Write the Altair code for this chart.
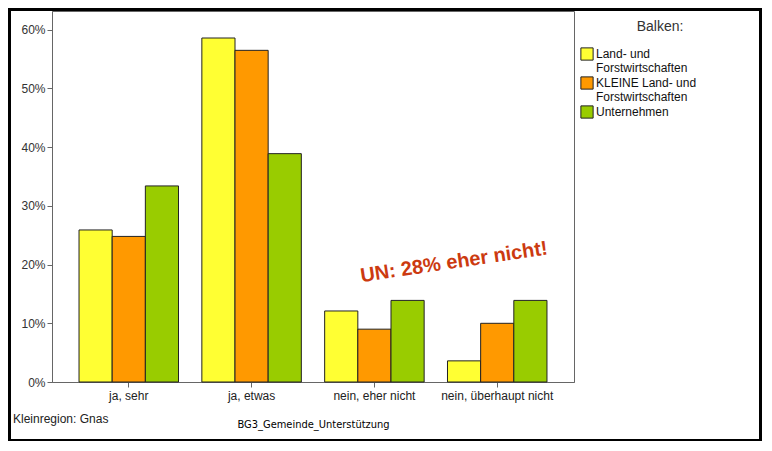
import altair as alt
import pandas as pd

categories = ["ja, sehr", "ja, etwas", "nein, eher nicht", "nein, überhaupt nicht"]
series = ["Land- und Forstwirtschaften", "KLEINE Land- und Forstwirtschaften", "Unternehmen"]
colors = ["#ffff33", "#ff9900", "#99cc00"]
values_lf = [0.259, 0.586, 0.121, 0.036]
values_klein = [0.248, 0.565, 0.090, 0.100]
values_un = [0.334, 0.389, 0.139, 0.139]
y_ticks = [0.0, 0.1, 0.2, 0.3, 0.4, 0.5, 0.6]

rows = []
for s, vals in zip(series, [values_lf, values_klein, values_un]):
    for c, v in zip(categories, vals):
        rows.append({"cat": c, "serie": s, "val": v})
df = pd.DataFrame(rows)

FONT = "Liberation Sans"

bars = alt.Chart(df).mark_bar(stroke="#222222", strokeWidth=1).encode(
    x=alt.X("cat:N", sort=categories,
            scale=alt.Scale(paddingInner=0.19, paddingOuter=0.22),
            axis=alt.Axis(title="BG3_Gemeinde_Unterstützung", labelAngle=0,
                          labelFontSize=12, labelColor="#222222", labelFont=FONT,
                          titleFontSize=11, titleFont="DejaVu Sans Condensed",
                          titleFontWeight="normal", titleColor="#000000",
                          titlePadding=17, tickSize=5, tickColor="#666666",
                          domainColor="#666666", labelPadding=3)),
    xOffset=alt.XOffset("serie:N", sort=series, scale=alt.Scale(paddingInner=0, paddingOuter=0)),
    y=alt.Y("val:Q", scale=alt.Scale(domain=[0, 0.632], nice=False),
            axis=alt.Axis(title=None, format=".0%", values=y_ticks, grid=False,
                          labelFontSize=12, labelColor="#333333", labelFont=FONT,
                          tickSize=5, tickColor="#666666", domainColor="#666666",
                          labelPadding=2)),
    color=alt.Color("serie:N", sort=series,
                    scale=alt.Scale(domain=series, range=colors),
                    legend=alt.Legend(title=None, orient="none", legendX=528, legendY=36,
                                      labelFontSize=12, labelColor="#111111", labelFont=FONT,
                                      symbolType="square", symbolSize=150,
                                      symbolStrokeColor="#222222", symbolStrokeWidth=1,
                                      symbolOpacity=1, labelOffset=2, rowPadding=0,
                                      labelExpr="indexof(datum.label, 'Land- und') >= 0 ? [replace(datum.label, ' Forstwirtschaften', ''), 'Forstwirtschaften'] : datum.label")),
)

legend_title = alt.Chart(pd.DataFrame({"t": ["Balken:"]})).mark_text(
    fontSize=14, font=FONT, color="#333333", align="center", baseline="middle"
).encode(x=alt.value(608), y=alt.value(16), text="t:N")

annot = alt.Chart(pd.DataFrame({"t": ["UN: 28% eher nicht!"], "y": [0.204]})).mark_text(
    fontSize=20, fontWeight="bold", font=FONT, color="#cc3a10", angle=351.5,
    align="center", baseline="middle"
).encode(x=alt.value(402), y=alt.Y("y:Q"), text="t:N")

bottom = alt.Chart(pd.DataFrame({"t": ["Kleinregion: Gnas"]})).mark_text(
    fontSize=12, font=FONT, color="#222222", align="left", baseline="middle"
).encode(x=alt.value(-39), y=alt.value(408), text="t:N")

frame = alt.Chart(pd.DataFrame({"a": [1]})).mark_rect(
    fill="transparent", stroke="#000000", strokeWidth=3
).encode(x=alt.value(-42.5), x2=alt.value(708.5), y=alt.value(-1.5), y2=alt.value(429.5))

chart = alt.layer(bars, legend_title, annot, bottom, frame).properties(
    width=522, height=371,
    autosize=alt.AutoSizeParams(type="none"),
    padding={"left": 44, "top": 3, "right": 188, "bottom": 59},
    background="white",
).configure_view(stroke="#666666", strokeWidth=1)

chart.save("out.html", embed_options={"renderer": "svg", "actions": False})
